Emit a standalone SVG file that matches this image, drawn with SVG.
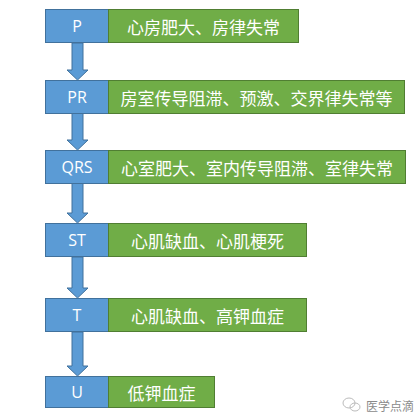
<svg xmlns="http://www.w3.org/2000/svg" width="418" height="415" viewBox="0 0 418 415">
<style>
.lb{fill:#5B9BD5;stroke:#41719C;stroke-width:1}
.gr{fill:#70AD47;stroke:#507E32;stroke-width:1}
.lt{font-family:"Open Sans","Noto Sans",sans-serif;font-size:16px;fill:#fff;text-anchor:middle;dominant-baseline:central}
.ct{font-family:"Noto Sans CJK SC","Noto Sans",sans-serif;font-size:17px;fill:#fff;text-anchor:middle;dominant-baseline:central}
.ar{fill:#5B9BD5;stroke:#41719C;stroke-width:1}
.wm{font-family:"Noto Sans CJK SC",sans-serif;font-size:12px;fill:#8a8a8a}
</style>
<rect width="418" height="415" fill="#fff"/>
<g id="connectors">
<path class="ar" d="M72,43 H83 V70 H88 L77.5,80 L67,70 H72 Z"/>
<path class="ar" d="M72,113 H83 V140 H88 L77.5,150 L67,140 H72 Z"/>
<path class="ar" d="M72,183 H83 V213 H88 L77.5,223 L67,213 H72 Z"/>
<path class="ar" d="M72,257 H83 V288 H88 L77.5,298 L67,288 H72 Z"/>
<path class="ar" d="M72,332 H83 V366 H88 L77.5,376 L67,366 H72 Z"/>
</g>
<g id="P"><rect class="lb" x="45.5" y="9.5" width="63" height="33"/><rect class="gr" x="108.5" y="9.5" width="190" height="33"/><text class="lt" x="77" y="26">P</text><text class="ct" x="203.5" y="26.5">心房肥大、房律失常</text></g>
<g id="PR"><rect class="lb" x="45.5" y="80.5" width="63" height="33"/><rect class="gr" x="108.5" y="80.5" width="296" height="33"/><text class="lt" x="77" y="97">PR</text><text class="ct" x="256.5" y="97.5">房室传导阻滞、预激、交界律失常等</text></g>
<g id="QRS"><rect class="lb" x="45.5" y="150.5" width="63" height="33"/><rect class="gr" x="108.5" y="150.5" width="297" height="33"/><text class="lt" x="77" y="167">QRS</text><text class="ct" x="257" y="167.5">心室肥大、室内传导阻滞、室律失常</text></g>
<g id="ST"><rect class="lb" x="45.5" y="223.5" width="63" height="33"/><rect class="gr" x="108.5" y="223.5" width="198" height="33"/><text class="lt" x="77" y="240">ST</text><text class="ct" x="207.5" y="240.5">心肌缺血、心肌梗死</text></g>
<g id="T"><rect class="lb" x="45.5" y="298.5" width="63" height="33"/><rect class="gr" x="108.5" y="298.5" width="198" height="33"/><text class="lt" x="77" y="315">T</text><text class="ct" x="207.5" y="315.5">心肌缺血、高钾血症</text></g>
<g id="U"><rect class="lb" x="45.5" y="376.5" width="63" height="31"/><rect class="gr" x="108.5" y="376.5" width="106" height="31"/><text class="lt" x="77" y="392">U</text><text class="ct" x="161.5" y="392.5">低钾血症</text></g>
<g id="watermark">
<ellipse cx="349" cy="403" rx="6" ry="5" fill="none" stroke="#bbb" stroke-width="1"/>
<ellipse cx="355" cy="407" rx="5" ry="4" fill="none" stroke="#bbb" stroke-width="1"/>
<text class="wm" x="366" y="411">医学点滴</text>
</g>
</svg>
